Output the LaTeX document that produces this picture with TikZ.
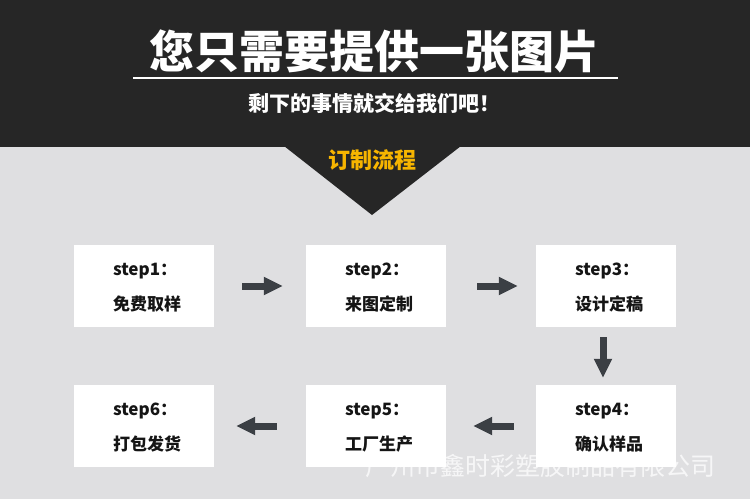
\documentclass[tikz,border=0pt]{standalone}
\usepackage{fontspec}
\usetikzlibrary{arrows.meta,calc}
\setmainfont{Noto Sans CJK SC}
\definecolor{darkhead}{HTML}{262626}
\definecolor{bggrey}{HTML}{DFDFE1}
\definecolor{arrowgrey}{HTML}{3B3F44}
\definecolor{gold}{HTML}{F7B500}
\definecolor{boxtext}{HTML}{151515}
\begin{document}
\begin{tikzpicture}[x=1pt,y=-1pt,
  stepbox/.style={fill=white,draw=none,minimum width=140pt,minimum height=82pt,inner sep=0pt},
  steplabel/.style={anchor=west,inner sep=0pt,font=\fontsize{17}{20}\selectfont\bfseries,text=boxtext},
  flowarrow/.style={draw=arrowgrey,line width=7pt,-{Triangle[length=19pt,width=17pt]}},
  headtext/.style={text=white,inner sep=0pt,font=\bfseries}]
\useasboundingbox (0,0) rectangle (750,499);
\fill[bggrey] (0,0) rectangle (750,499);
\fill[darkhead] (0,0) rectangle (750,147);
\fill[darkhead] (284,146) -- (461,146) -- (372,215) -- cycle;
\node[headtext,font=\fontsize{45}{48}\selectfont\bfseries] (title) at (374,51) {您只需要提供一张图片};
\coordinate (ruleL) at (133,78);
\coordinate (ruleR) at (618,78);
\draw[white,line width=1.2pt] (ruleL) -- (ruleR);
\node[headtext,font=\fontsize{21}{23}\selectfont\bfseries] (sub) at (374,103) {剩下的事情就交给我们吧！};
\node[inner sep=0pt,text=gold,font=\fontsize{22}{24}\selectfont\bfseries] (flow) at (372,160) {订制流程};
% watermark
\node[inner sep=0pt,text=white,opacity=0.75,font=\fontsize{25}{27}\selectfont] (wm) at (540,466) {广州市鑫时彩塑胶制品有限公司};
% boxes
\node[stepbox] (b1) at (144,286) {};
\node[stepbox] (b2) at (376,286) {};
\node[stepbox] (b3) at (606,286) {};
\node[stepbox] (b4) at (606,426) {};
\node[stepbox] (b5) at (376,426) {};
\node[stepbox] (b6) at (144,426) {};
\foreach \b/\s/\t in {b1/step1：/免费取样, b2/step2：/来图定制, b3/step3：/设计定稿, b4/step4：/确认样品, b5/step5：/工厂生产, b6/step6：/打包发货}{
  \node[steplabel] (\b s) at ($(\b.north west)+(39,26)$) {\s};
  \node[steplabel] (\b t) at ($(\b.north west)+(39,59)$) {\t};
}
% arrows
\draw[flowarrow,shorten <=28pt,shorten >=23pt] (b1.east) -- (b2.west);
\draw[flowarrow,shorten <=31pt,shorten >=18pt] (b2.east) -- (b3.west);
\draw[flowarrow,shorten <=10pt,shorten >=7pt] ([xshift=-3pt]b3.south) -- ([xshift=-3pt]b4.north);
\draw[flowarrow,shorten <=22pt,shorten >=27pt] (b4.west) -- (b5.east);
\draw[flowarrow,shorten <=29pt,shorten >=22pt] (b5.west) -- (b6.east);
\end{tikzpicture}
\end{document}
